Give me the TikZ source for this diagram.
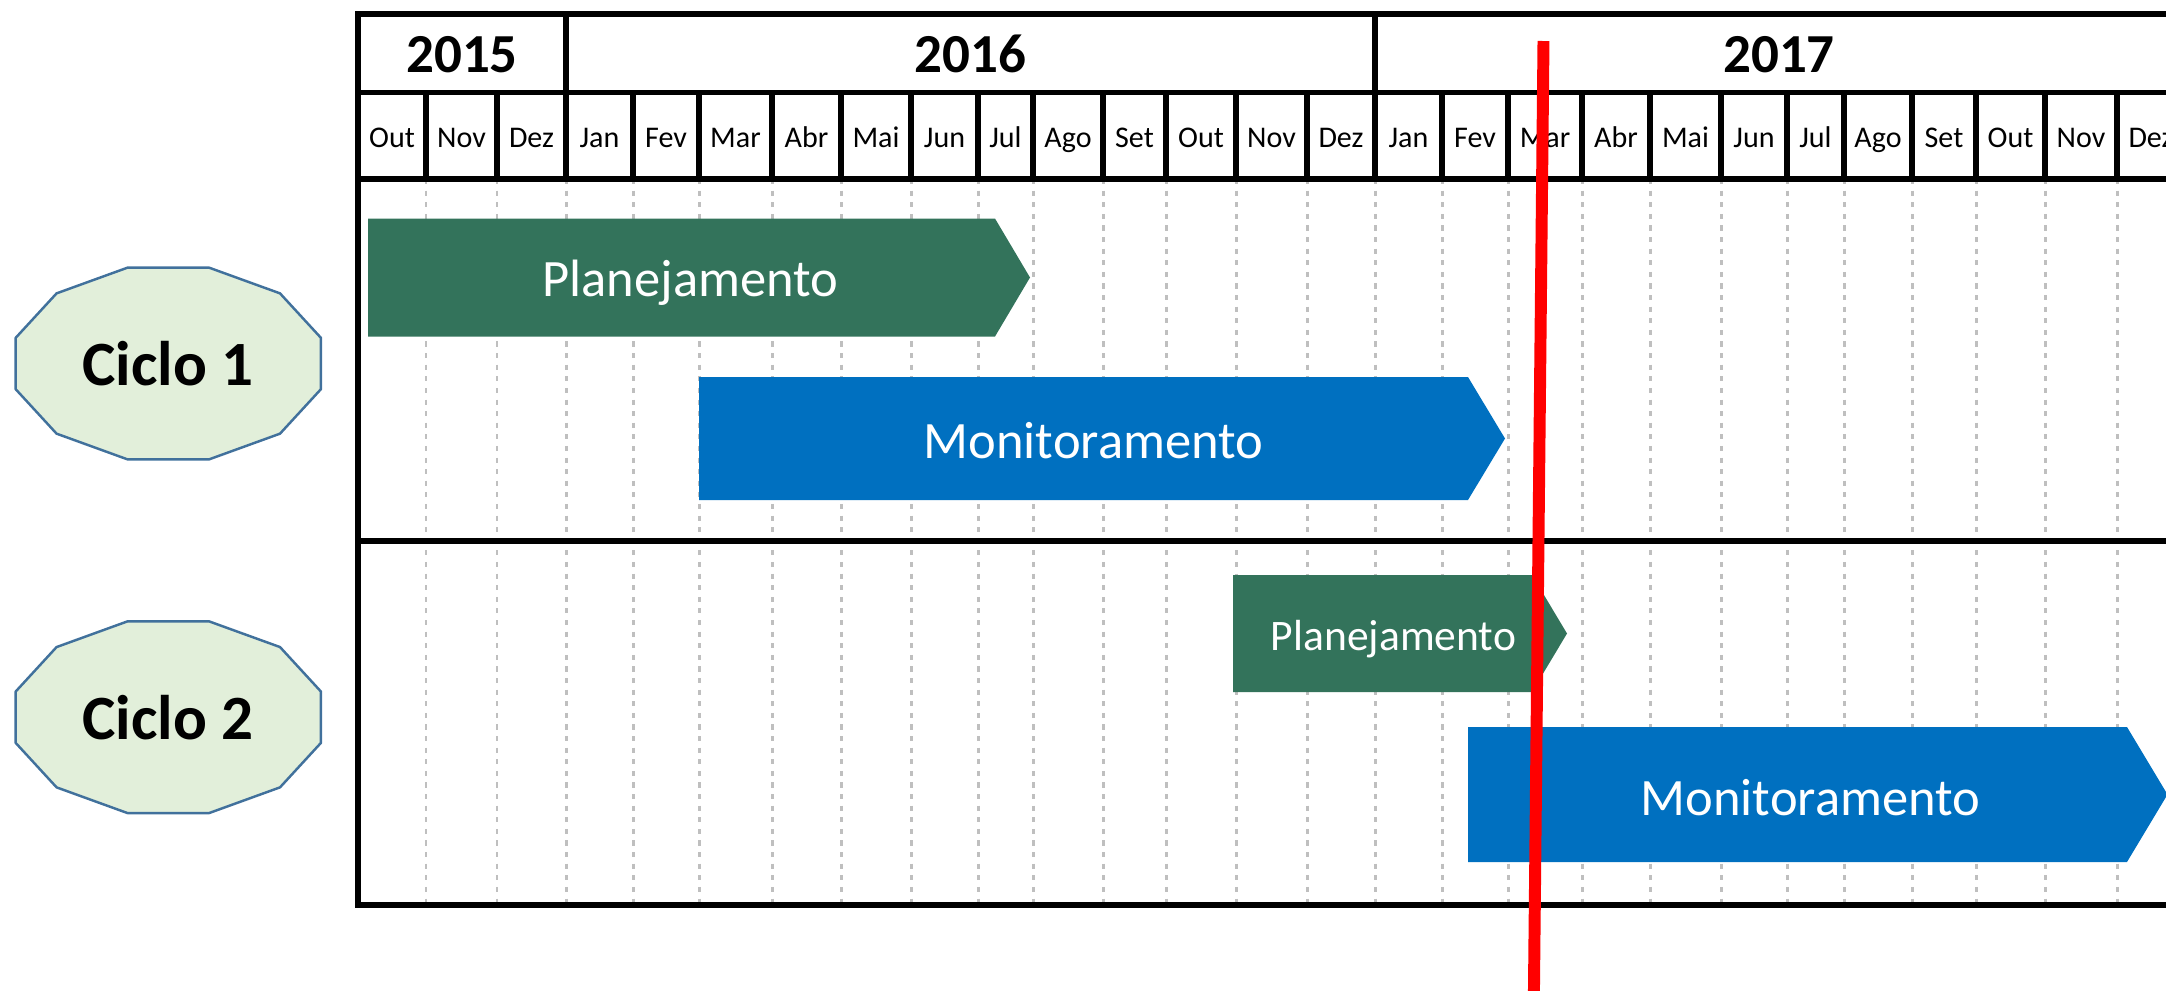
\documentclass[tikz,border=0pt]{standalone}
\usepackage{fontspec}
\setmainfont{Carlito}
\definecolor{pgreen}{RGB}{51,115,91}
\definecolor{mblue}{RGB}{0,112,192}
\definecolor{cycfill}{RGB}{226,239,218}
\definecolor{cycline}{RGB}{65,113,156}
\definecolor{gridgray}{RGB}{191,191,191}
\begin{document}
\begin{tikzpicture}[x=0.01cm,y=-0.01cm,
  tab/.style={line width=1.45pt,black},
  gridline/.style={gridgray,line width=0.85pt,dash pattern=on 1.45pt off 1.85pt},
  yearlbl/.style={font=\fontsize{15.65}{16}\selectfont\bfseries,anchor=base,inner sep=0pt},
  monlbl/.style={font=\fontsize{8.54}{9}\selectfont,anchor=base,inner sep=0pt},
  bartxt/.style={font=\fontsize{14.94}{15}\selectfont,text=white,anchor=base,inner sep=0pt},
  bartxtsmall/.style={font=\fontsize{12.38}{13}\selectfont,text=white,anchor=base,inner sep=0pt},
  cyc/.style={fill=cycfill,draw=cycline,line width=0.7pt,line join=round},
  cyctxt/.style={font=\fontsize{17.93}{18}\selectfont\bfseries,anchor=base,inner sep=0pt},
  today/.style={red,line width=3.4pt}
]
\useasboundingbox (0,0) rectangle (2166,990);
\clip (0,0) rectangle (2166,990);

% dashed month grid
\foreach \x in {426,497,566,633,699,772,841,911,978,1033,1103,1166,1236,1307,1375,1442,1508,1582,1650,1721,1787,1844,1912,1976,2045,2117}
  \draw[gridline] (\x,179) -- (\x,905);

% bars
\fill[pgreen] (368,218.5) -- (995,218.5) -- (1030,277.5) -- (995,336.5) -- (368,336.5) -- cycle;
\fill[mblue] (699,377) -- (1468,377) -- (1505,438.5) -- (1468,500) -- (699,500) -- cycle;
\fill[pgreen] (1233,575) -- (1532,575) -- (1567,633.5) -- (1532,692) -- (1233,692) -- cycle;
\fill[mblue] (1468,727) -- (2127,727) -- (2167.5,794.5) -- (2127,862) -- (1468,862) -- cycle;

\node[bartxt] (p1) at (690.5,296.7) {Planejamento};
\node[bartxt] (m1) at (1093.5,458) {Monitoramento};
\node[bartxtsmall] (p2) at (1393.5,650) {Planejamento};
\node[bartxt] (m2) at (1810.5,815) {Monitoramento};

% table frame
\draw[tab] (2200,14) -- (358,14) -- (358,905) -- (2200,905);
\foreach \y in {92.5,179,541}
  \draw[tab] (358,\y) -- (2200,\y);
\foreach \x in {566,1375}
  \draw[tab] (\x,14) -- (\x,179);
\foreach \x in {426,497,633,699,772,841,911,978,1033,1103,1166,1236,1307,1442,1508,1582,1650,1721,1787,1844,1912,1976,2045,2117}
  \draw[tab] (\x,92.5) -- (\x,179);

% years
\node[yearlbl] (y2015) at (462,72.7) {2015};
\node[yearlbl] (y2016) at (970.5,72.7) {2016};
\node[yearlbl] (y2017) at (1779,72.7) {2017};

% months
\foreach \l/\r/\m [count=\i] in {358/426/Out,426/497/Nov,497/566/Dez,566/633/Jan,633/699/Fev,699/772/Mar,772/841/Abr,841/911/Mai,911/978/Jun,978/1033/Jul,1033/1103/Ago,1103/1166/Set,1166/1236/Out,1236/1307/Nov,1307/1375/Dez,1375/1442/Jan,1442/1508/Fev,1508/1582/Mar,1582/1650/Abr,1650/1721/Mai,1721/1787/Jun,1787/1844/Jul,1844/1912/Ago,1912/1976/Set,1976/2045/Out,2045/2117/Nov,2117/2185/Dez}
  \node[monlbl] (mon\i) at ({(\l+\r)/2},147) {\m};

% cycles
\begin{scope}[shift={(168.3,363.5)}]
  \draw[cyc] (15:158 and 99.2) \foreach \a in {45,75,...,345} { -- (\a:158 and 99.2) } -- cycle;
\end{scope}
\begin{scope}[shift={(168.3,717.2)}]
  \draw[cyc] (15:158 and 99.2) \foreach \a in {45,75,...,345} { -- (\a:158 and 99.2) } -- cycle;
\end{scope}
\node[cyctxt] (c1) at (168,385) {Ciclo 1};
\node[cyctxt] (c2) at (168,739.3) {Ciclo 2};

% today line
\coordinate (rtop) at (1543.5,41);
\coordinate (rbot) at (1533.9,995);
\draw[today] (rtop) -- (rbot);
\end{tikzpicture}
\end{document}
